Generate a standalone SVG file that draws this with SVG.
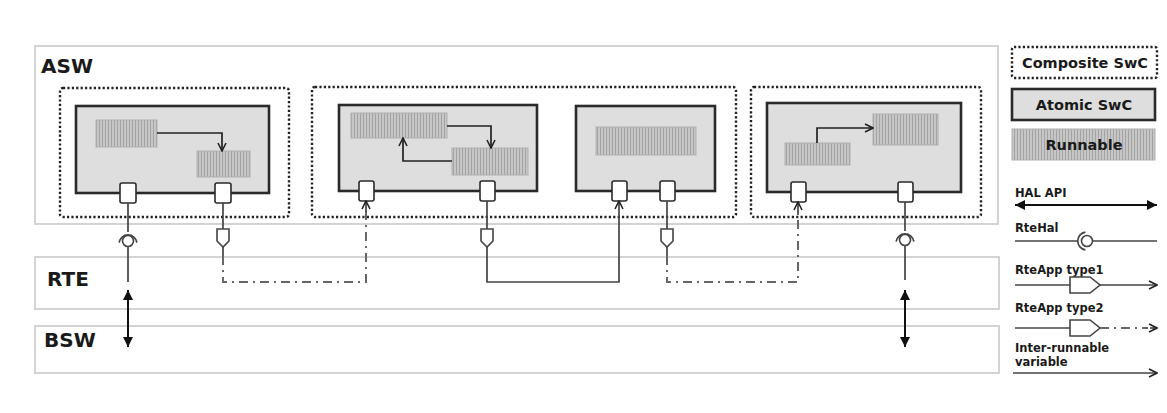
<svg xmlns="http://www.w3.org/2000/svg" width="1167" height="413" viewBox="0 0 1167 413">
<defs>
  <pattern id="hatch" patternUnits="userSpaceOnUse" width="3" height="10">
    <rect width="3" height="10" fill="#c6c6c6"/>
    <rect width="1" height="10" fill="#a4a4a4"/>
  </pattern>
  <marker id="open" viewBox="0 0 10 10" refX="9" refY="5" markerWidth="10" markerHeight="10" markerUnits="userSpaceOnUse" orient="auto">
    <path d="M1,1 L9,5 L1,9" fill="none" stroke="#222" stroke-width="1.6" stroke-dasharray="none"/>
  </marker>
  <marker id="filled" viewBox="0 0 10 10" refX="10" refY="5" markerWidth="10" markerHeight="10" markerUnits="userSpaceOnUse" orient="auto-start-reverse">
    <path d="M0,0 L10,5 L0,10 z" fill="#111"/>
  </marker>
</defs>
<style>
  .layer { fill: #fff; stroke: #cfcfcf; stroke-width: 1.8; }
  .layerlabel { font-family: "DejaVu Sans", Verdana, sans-serif; font-weight: bold; font-size: 20px; fill: #1a1a1a; }
  .composite { fill: none; stroke: #222; stroke-width: 2.4; stroke-dasharray: 2.2 2.2; }
  .atomic { fill: #dedede; stroke: #2a2a2a; stroke-width: 2.6; }
  .runnable { fill: url(#hatch); stroke: #b0b0b0; stroke-width: 1; }
  .port { fill: #fff; stroke: #2a2a2a; stroke-width: 1.6; }
  .irv { fill: none; stroke: #222; stroke-width: 1.7; marker-end: url(#open); }
  .wire { fill: none; stroke: #444; stroke-width: 1.7; }
  .dashdot { fill: none; stroke: #666; stroke-width: 2; stroke-dasharray: 9 5 2 5; }
  .hal { fill: none; stroke: #111; stroke-width: 2; marker-start: url(#filled); marker-end: url(#filled); }
  .penta { fill: #fff; stroke: #444; stroke-width: 1.6; }
  .circ { fill: #fff; stroke: #444; stroke-width: 1.6; }
  .legtitle { font-family: "DejaVu Sans", Verdana, sans-serif; font-weight: bold; font-size: 14.5px; fill: #1a1a1a; text-anchor: middle; }
  .legtext { font-family: "DejaVu Sans", Verdana, sans-serif; font-weight: bold; font-size: 11.5px; fill: #1a1a1a; }
</style>

<g id="layer-asw">
  <rect class="layer" x="35" y="46" width="963" height="178"/>
  <text class="layerlabel" x="41" y="73">ASW</text>
</g>
<g id="layer-rte">
  <rect class="layer" x="35" y="257" width="964" height="52"/>
  <text class="layerlabel" x="47" y="286">RTE</text>
</g>
<g id="layer-bsw">
  <rect class="layer" x="35" y="326" width="964" height="47"/>
  <text class="layerlabel" x="44" y="347">BSW</text>
</g>

<g id="composite-1">
  <rect class="composite" x="60" y="88" width="229" height="129" rx="3"/>
</g>
<g id="atomic-1">
  <rect class="atomic" x="76" y="106" width="193" height="87"/>
  <rect class="runnable" x="96" y="120" width="61" height="27"/>
  <rect class="runnable" x="197" y="151" width="53" height="26"/>
  <rect class="port" x="120" y="183" width="16" height="20" rx="2"/>
  <rect class="port" x="215" y="183" width="16" height="20" rx="2"/>
  <path class="irv" d="M157,133 H222 V151"/>
</g>

<g id="composite-2">
  <rect class="composite" x="312" y="87" width="424" height="130" rx="3"/>
</g>
<g id="atomic-2a">
  <rect class="atomic" x="339" y="105" width="198" height="86"/>
  <rect class="runnable" x="351" y="113" width="96" height="25"/>
  <rect class="runnable" x="452" y="148" width="76" height="27"/>
  <rect class="port" x="359" y="181" width="15" height="20" rx="2"/>
  <rect class="port" x="480" y="181" width="15" height="20" rx="2"/>
  <path class="irv" d="M447,126 H491 V148"/>
  <path class="irv" d="M452,161 H403 V138"/>
</g>
<g id="atomic-2b">
  <rect class="atomic" x="576" y="106" width="139" height="85"/>
  <rect class="runnable" x="596" y="127" width="100" height="28"/>
  <rect class="port" x="612" y="181" width="15" height="20" rx="2"/>
  <rect class="port" x="660" y="181" width="15" height="20" rx="2"/>
</g>

<g id="composite-3">
  <rect class="composite" x="751" y="87" width="230" height="130" rx="3"/>
</g>
<g id="atomic-3">
  <rect class="atomic" x="767" y="103" width="194" height="89"/>
  <rect class="runnable" x="785" y="143" width="65" height="22"/>
  <rect class="runnable" x="873" y="114" width="65" height="31"/>
  <rect class="port" x="791" y="182" width="15" height="20" rx="2"/>
  <rect class="port" x="898" y="182" width="15" height="20" rx="2"/>
  <path class="irv" d="M817,143 V128 H873"/>
</g>

<g id="connectors">
  <!-- RteHal left -->
  <path class="wire" d="M128,203 V232"/>
  <path class="wire" d="M119.1,242.6 A9,9 0 0 1 136.9,242.6"/>
  <circle class="circ" cx="128" cy="241" r="5.5"/>
  <path class="wire" d="M128,246.5 V282"/>
  <path class="hal" d="M128,290 V347"/>

  <!-- RteApp type2 from port 223 to port 366 -->
  <path class="wire" d="M223,203 V229"/>
  <polygon class="penta" points="217,229 229,229 229,241 223,247 217,241"/>
  <path class="wire" d="M223,247 V256"/>
  <path class="dashdot" d="M223,256 V282 H366 V206"/>
  <path class="wire" d="M366,212 V201" marker-end="url(#open)"/>

  <!-- RteApp type1 from port 487 to port 619 -->
  <path class="wire" d="M487,201 V229"/>
  <polygon class="penta" points="481,229 493,229 493,241 487,247 481,241"/>
  <path class="wire" d="M487,247 V282 H619 V201" marker-end="url(#open)"/>

  <!-- RteApp type2 from port 667 to port 798 -->
  <path class="wire" d="M667,201 V229"/>
  <polygon class="penta" points="661,229 673,229 673,241 667,247 661,241"/>
  <path class="wire" d="M667,247 V256"/>
  <path class="dashdot" d="M667,256 V282 H798 V208"/>
  <path class="wire" d="M798,213 V202" marker-end="url(#open)"/>

  <!-- RteHal right -->
  <path class="wire" d="M905,202 V231"/>
  <path class="wire" d="M896.1,241.6 A9,9 0 0 1 913.9,241.6"/>
  <circle class="circ" cx="905" cy="240" r="5.5"/>
  <path class="wire" d="M905,245.5 V280"/>
  <path class="hal" d="M905,290 V347"/>
</g>

<g id="legend">
  <g id="legend-composite">
    <rect class="composite" x="1012" y="47" width="145" height="31" rx="2"/>
    <text class="legtitle" x="1085" y="68">Composite SwC</text>
  </g>
  <g id="legend-atomic">
    <rect class="atomic" x="1012" y="89" width="143" height="31"/>
    <text class="legtitle" x="1084" y="110">Atomic SwC</text>
  </g>
  <g id="legend-runnable">
    <rect class="runnable" x="1012" y="129" width="143" height="31"/>
    <text class="legtitle" x="1084" y="150">Runnable</text>
  </g>
  <g id="legend-halapi">
    <text class="legtext" x="1015" y="197">HAL API</text>
    <path class="hal" d="M1015,205 H1157"/>
  </g>
  <g id="legend-rtehal">
    <text class="legtext" x="1015" y="232">RteHal</text>
    <path class="wire" d="M1015,241 H1078"/>
    <path class="wire" d="M1085.4,232.1 A9,9 0 0 0 1085.4,249.9"/>
    <circle class="circ" cx="1087" cy="241" r="5.5"/>
    <path class="wire" d="M1092.5,241 H1157"/>
  </g>
  <g id="legend-type1">
    <text class="legtext" x="1015" y="274">RteApp type1</text>
    <path class="wire" d="M1015,285 H1070"/>
    <polygon class="penta" points="1070,277 1090,277 1100,285 1090,293 1070,293"/>
    <path class="wire" d="M1100,285 H1157" marker-end="url(#open)"/>
  </g>
  <g id="legend-type2">
    <text class="legtext" x="1015" y="312">RteApp type2</text>
    <path class="wire" d="M1015,328 H1070"/>
    <polygon class="penta" points="1070,320 1090,320 1100,328 1090,336 1070,336"/>
    <path class="dashdot" d="M1100,328 H1148"/>
    <path class="wire" d="M1150,328 H1157" marker-end="url(#open)"/>
  </g>
  <g id="legend-irv">
    <text class="legtext" x="1015" y="352">Inter-runnable</text>
    <text class="legtext" x="1015" y="366">variable</text>
    <path class="wire" d="M1013,373 H1157" marker-end="url(#open)"/>
  </g>
</g>
</svg>
